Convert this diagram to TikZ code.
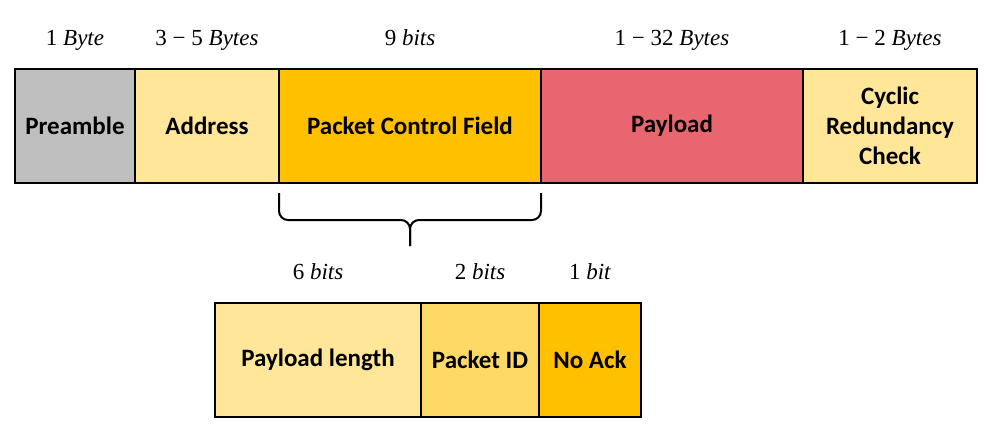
\documentclass[tikz,border=0pt]{standalone}
\usepackage{fontspec}
\setmainfont{Carlito}
\newfontfamily\sizefont{Liberation Serif}
\usetikzlibrary{positioning}
\definecolor{PreGray}{HTML}{BFBFBF}
\definecolor{PaleGold}{HTML}{FFE699}
\definecolor{MidGold}{HTML}{FFD966}
\definecolor{DeepGold}{HTML}{FFC000}
\definecolor{PayRed}{HTML}{E96670}

\begin{document}
\begin{tikzpicture}[x=1pt,y=1pt,
    field/.style={draw,line width=2.5pt,minimum height=114pt,inner sep=0pt,outer sep=0pt,
      align=center,font=\fontsize{25}{30}\selectfont\bfseries},
    sizelbl/.style={inner sep=0pt,text height=15pt,text depth=5pt,
      font=\fontsize{23}{27}\selectfont\sizefont}]
    \useasboundingbox (0,0) rectangle (990,-432);
    % packet frame
    \node[field,fill=PreGray,minimum width=120pt] (pre) at (75,-126) {Preamble};
    \node[field,fill=PaleGold,minimum width=144pt,right=0pt of pre] (addr) {Address};
    \node[field,fill=DeepGold,minimum width=262pt,right=0pt of addr] (pcf) {Packet Control Field};
    \node[field,fill=PayRed,minimum width=262pt,right=0pt of pcf] (pay) {Payload};
    \node[field,fill=PaleGold,minimum width=174pt,right=0pt of pay] (crc) {Cyclic\\Redundancy\\Check};
    % control field breakdown
    \node[field,fill=PaleGold,minimum width=206pt] (plen) at (318,-360) {Payload length};
    \node[field,fill=MidGold,minimum width=118pt,right=0pt of plen] (pid) {Packet ID};
    \node[field,fill=DeepGold,minimum width=102pt,right=0pt of pid] (nack) {No Ack};
    % brace under the control field
    \coordinate (braceL) at ([yshift=-10pt]pcf.south west);
    \coordinate (braceR) at ([yshift=-10pt]pcf.south east);
    \coordinate (braceTip) at ([yshift=-63pt]pcf.south);
    \draw[line width=2pt,rounded corners=9pt] (braceL) |- ([yshift=26pt]braceTip) -- (braceTip);
    \draw[line width=2pt,rounded corners=9pt] (braceR) |- ([yshift=26pt]braceTip) -- (braceTip);
    % sizes
    \foreach \b/\t in {pre/{1 \textit{Byte}},addr/{3 − 5 \textit{Bytes}},pcf/{9 \textit{bits}},
        pay/{1 − 32 \textit{Bytes}},crc/{1 − 2 \textit{Bytes}},plen/{6 \textit{bits}},
        pid/{2 \textit{bits}},nack/{1 \textit{bit}}} {
      \node[sizelbl] (\b-size) at ([yshift=28.5pt]\b.north) {\t};
    }
  \end{tikzpicture}
\end{document}
